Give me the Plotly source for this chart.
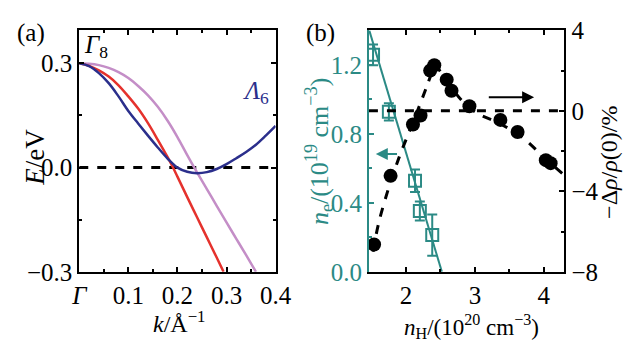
import plotly.graph_objects as go

# ---------------- Panel (a) data ----------------
k_blue = [0, 0.02, 0.04, 0.06, 0.08, 0.10, 0.12, 0.14, 0.16, 0.18, 0.20, 0.22, 0.24,
          0.26, 0.28, 0.30, 0.32, 0.34, 0.36, 0.38, 0.40]
e_blue = [0.30, 0.292, 0.272, 0.243, 0.205, 0.163, 0.127, 0.092, 0.058, 0.026, 0.0, -0.012,
          -0.016, -0.013, -0.004, 0.01, 0.027, 0.045, 0.066, 0.092, 0.12]

k_red = [0, 0.02, 0.04, 0.06, 0.08, 0.10, 0.12, 0.14, 0.16, 0.18, 0.19, 0.20, 0.22, 0.24,
         0.26, 0.28, 0.294]
e_red = [0.30, 0.293, 0.28, 0.262, 0.237, 0.205, 0.17, 0.128, 0.08, 0.03, 0.003, -0.026,
         -0.085, -0.143, -0.201, -0.259, -0.30]

k_pink = [0, 0.02, 0.04, 0.06, 0.08, 0.10, 0.12, 0.14, 0.16, 0.18, 0.20, 0.22, 0.24,
          0.26, 0.28, 0.30, 0.32, 0.34, 0.36]
e_pink = [0.30, 0.299, 0.295, 0.287, 0.275, 0.258, 0.235, 0.208, 0.175, 0.135, 0.088, 0.036,
          -0.014, -0.062, -0.11, -0.158, -0.205, -0.252, -0.30]

a_xticks = [0, 0.1, 0.2, 0.3, 0.4]
a_xticktext = ["<i>Γ</i>", "0.1", "0.2", "0.3", "0.4"]
a_yticks = [-0.3, 0.0, 0.3]
a_yticktext = ["−0.3", "0.0", "0.3"]

# ---------------- Panel (b) data ----------------
nh_sq = [1.52, 1.75, 2.13, 2.20, 2.38]
ne_sq = [1.258, 0.928, 0.528, 0.352, 0.213]
ne_err = [0.06, 0.05, 0.065, 0.055, 0.12]

nh_fit_ne = [1.465, 2.52]
ne_fit = [1.40, 0.0]

nh_dot = [1.535, 1.775, 2.10, 2.21, 2.35, 2.41, 2.59, 2.66, 2.92, 3.37, 3.62, 4.03, 4.10]
rho_dot = [-6.64, -3.23, -0.68, -0.23, 2.0, 2.27, 1.55, 1.0, 0.23, -0.45, -1.05, -2.45, -2.6]

nh_fit_up = [1.52, 1.6, 1.75, 1.9, 2.05, 2.2, 2.32, 2.42]
rho_fit_up = [-7.0, -5.6, -3.8, -2.3, -1.0, 0.3, 1.4, 2.35]
nh_fit_dn = [2.42, 2.6, 2.8, 3.0, 3.4, 3.7, 4.0, 4.3]
rho_fit_dn = [2.35, 1.45, 0.55, -0.05, -0.7, -1.35, -2.3, -3.2]

b_xticks = [2, 3, 4]
b_ylticks = [0.0, 0.4, 0.8, 1.2]
b_yrticks = [-8, -4, 0, 4]

BLUE = "#2b2f8c"
RED = "#e5322d"
PINK = "#c48ec7"
TEAL = "#2b8a85"
FONT = "Liberation Serif"
TS = 25

fig = go.Figure()

# Panel (a)
fig.add_trace(go.Scatter(x=[0, 0.385], y=[0, 0], mode="lines",
                         line=dict(color="black", width=3, dash="dash"),
                         xaxis="x", yaxis="y", showlegend=False))
fig.add_trace(go.Scatter(x=k_pink, y=e_pink, mode="lines", line=dict(color=PINK, width=2.5, shape="spline"),
                         xaxis="x", yaxis="y", showlegend=False))
fig.add_trace(go.Scatter(x=k_red, y=e_red, mode="lines", line=dict(color=RED, width=2.5, shape="spline"),
                         xaxis="x", yaxis="y", showlegend=False))
fig.add_trace(go.Scatter(x=k_blue, y=e_blue, mode="lines", line=dict(color=BLUE, width=2.5, shape="spline"),
                         xaxis="x", yaxis="y", showlegend=False))

# Panel (b)
fig.add_trace(go.Scatter(x=[1.46, 4.3], y=[0, 0], mode="lines",
                         line=dict(color="black", width=3, dash="dash"),
                         xaxis="x2", yaxis="y3", showlegend=False))
fig.add_trace(go.Scatter(x=nh_fit_up, y=rho_fit_up, mode="lines",
                         line=dict(color="black", width=3, dash="dash", shape="spline"),
                         xaxis="x2", yaxis="y3", showlegend=False))
fig.add_trace(go.Scatter(x=nh_fit_dn, y=rho_fit_dn, mode="lines",
                         line=dict(color="black", width=3, dash="dash", shape="spline"),
                         xaxis="x2", yaxis="y3", showlegend=False))
fig.add_trace(go.Scatter(x=nh_dot, y=rho_dot, mode="markers",
                         marker=dict(color="black", size=14, symbol="circle"),
                         xaxis="x2", yaxis="y3", showlegend=False))
fig.add_trace(go.Scatter(x=nh_fit_ne, y=ne_fit, mode="lines", line=dict(color=TEAL, width=2),
                         xaxis="x2", yaxis="y2", showlegend=False))
fig.add_trace(go.Scatter(x=nh_sq, y=ne_sq, mode="markers",
                         marker=dict(symbol="square-open", size=12, color=TEAL, line=dict(width=2, color=TEAL)),
                         error_y=dict(type="data", array=ne_err, color=TEAL, thickness=2, width=5),
                         xaxis="x2", yaxis="y2", showlegend=False))

tickfont = dict(family=FONT, size=TS, color="black")
common = dict(showline=True, linecolor="black", linewidth=2, ticks="inside", ticklen=5,
              tickwidth=1.5, tickcolor="black", showgrid=False, zeroline=False, tickfont=tickfont)

fig.update_layout(
    width=642, height=343,
    margin=dict(l=0, r=0, t=0, b=0),
    paper_bgcolor="white", plot_bgcolor="white",
    font=dict(family=FONT, size=TS, color="black"),
    xaxis=dict(domain=[0.1153, 0.433], range=[0, 0.4], anchor="y", mirror="ticks",
               tickmode="array", tickvals=a_xticks, ticktext=a_xticktext,
               minor=dict(tickmode="array", tickvals=[0.05, 0.15, 0.25, 0.35], ticks="inside",
                          ticklen=3, tickcolor="black", tickwidth=1.5),
               **common),
    yaxis=dict(domain=[0.181, 0.945], range=[-0.3, 0.395], anchor="x", mirror="ticks",
               tickmode="array", tickvals=a_yticks, ticktext=a_yticktext,
               minor=dict(tickmode="array", tickvals=[-0.15, 0.15], ticks="inside",
                          ticklen=3, tickcolor="black", tickwidth=1.5),
               **common),
    xaxis2=dict(domain=[0.584, 0.9003], range=[1.46, 4.3], anchor="y2", mirror="ticks",
                tickmode="array", tickvals=b_xticks,
                minor=dict(tickmode="array", tickvals=[2.5, 3.5], ticks="inside",
                           ticklen=3, tickcolor="black", tickwidth=1.5),
                **common),
    yaxis2=dict(domain=[0.181, 0.945], range=[0, 1.4], anchor="x2",
                showline=True, linecolor=TEAL, linewidth=2, ticks="inside", ticklen=5,
                tickwidth=1.5, tickcolor=TEAL, showgrid=False, zeroline=False,
                tickfont=dict(family=FONT, size=TS, color=TEAL),
                tickmode="array", tickvals=b_ylticks, ticktext=["0.0", "0.4", "0.8", "1.2"],
                minor=dict(tickmode="array", tickvals=[0.2, 0.6, 1.0], ticks="inside",
                           ticklen=3, tickcolor=TEAL, tickwidth=1.5)),
    yaxis3=dict(domain=[0.181, 0.945], range=[-8, 4], anchor="x2", overlaying="y2", side="right",
                tickmode="array", tickvals=b_yrticks, ticktext=["−8", "−4", "0", "4"],
                minor=dict(tickmode="array", tickvals=[-6, -2, 2], ticks="inside",
                           ticklen=3, tickcolor="black", tickwidth=1.5),
                **common),
)

ann = []
def txt(x, y, text, size=24, color="black", angle=0, xa="center", ya="middle"):
    ann.append(dict(xref="paper", yref="paper", x=x / 642, y=1 - y / 343, text=text, showarrow=False,
                    font=dict(family=FONT, size=size, color=color), textangle=angle,
                    xanchor=xa, yanchor=ya, borderpad=0))

txt(24, 22, "(a)", size=25)
txt(325, 22, "(b)", size=25)
txt(91, 36, "<i>Γ</i><sub>8</sub>", size=25)
txt(258, 86, "<i>Λ</i><sub>6</sub>", size=25, color=BLUE)
txt(28, 156, "<i>E</i>/eV", size=27, angle=-90)
txt(178, 335, "<i>k</i>/Å<sup>−1</sup>", size=24)
txt(481, 340, "<i>n</i><sub>H</sub>/(10<sup>20</sup> cm<sup>−3</sup>)", size=23)
txt(323, 150, "<i>n</i><sub>e</sub>/(10<sup>19</sup> cm<sup>−3</sup>)", size=26, color=TEAL, angle=-90)
txt(625, 162, "−Δ<i>ρ</i>/<i>ρ</i>(0)/%", size=24, angle=-90)

# arrows
ann.append(dict(xref="x2", yref="y3", axref="x2", ayref="y3", x=3.86, y=0.68, ax=3.18, ay=0.68,
                text="", showarrow=True, arrowhead=2, arrowsize=1.2, arrowwidth=2, arrowcolor="black"))
ann.append(dict(xref="x2", yref="y2", axref="x2", ayref="y2", x=1.56, y=0.683, ax=1.89, ay=0.683,
                text="", showarrow=True, arrowhead=2, arrowsize=1.2, arrowwidth=2, arrowcolor=TEAL))

fig.update_layout(annotations=ann)
fig.write_html("out.html")
